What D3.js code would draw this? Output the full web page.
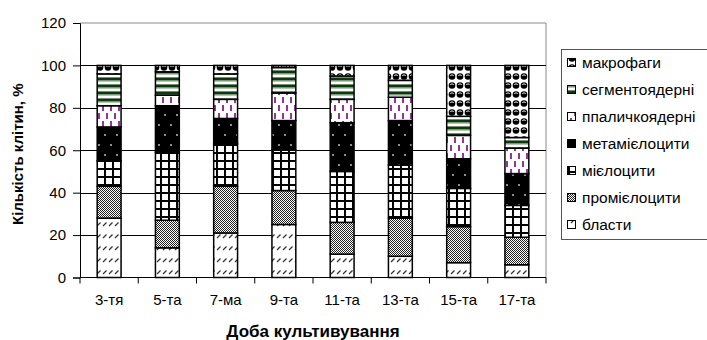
<!DOCTYPE html>
<html>
<head>
<meta charset="utf-8">
<script src="https://cdn.jsdelivr.net/npm/d3@7"></script>
<style>
  html, body { margin: 0; padding: 0; background: #fff; }
  svg { display: block; font-family: "Liberation Sans", Arial, sans-serif; }
</style>
</head>
<body>
<svg id="chart" width="707" height="340"></svg>
<script>
// Day of cultivation
const categories = ["3-тя", "5-та", "7-ма", "9-та", "11-та", "13-та", "15-та", "17-та"];

// Cell type shares, %, stacked bottom to top
const seriesNames = ["бласти", "промієлоцити", "мієлоцити", "метамієлоцити", "ппаличкоядерні", "сегментоядерні", "макрофаги"];
const blasts        = [28, 14, 21, 25, 11, 10,  7,  6];
const promyelocytes = [15, 13, 22, 16, 15, 18, 17, 13];
const myelocytes    = [12, 32, 20, 19, 24, 25, 18, 15];
const metamyelocytes= [16, 22, 12, 14, 23, 21, 14, 15];
const bandCells     = [10,  5,  9, 13, 11, 11, 11, 12];
const segmented     = [15, 11, 12, 12, 11,  8,  9,  5];
const macrophages   = [ 4,  3,  4,  1,  5,  7, 24, 34];

const yTicks = [0, 20, 40, 60, 80, 100, 120];
const yTitle = "Кількість клітин, %";
const xTitle = "Доба культивування";

const seriesValues = [blasts, promyelocytes, myelocytes, metamyelocytes, bandCells, segmented, macrophages];
const patternIds = ["pBlast", "pPro", "pMye", "pMeta", "pBand", "pSeg", "pMacro"];

const svg = d3.select("#chart");
const defs = svg.append("defs");

// ---- fill patterns ----
function pattern(id, w, h) {
  return defs.append("pattern").attr("id", id)
    .attr("patternUnits", "userSpaceOnUse").attr("width", w).attr("height", h);
}
// blasts: short upward diagonal dashes
{
  const p = pattern("pBlast", 6, 12);
  p.append("rect").attr("width", 6).attr("height", 12).attr("fill", "#fff");
  p.append("line").attr("x1", 1).attr("y1", 10).attr("x2", 4.5).attr("y2", 6.5)
    .attr("stroke", "#333").attr("stroke-width", 1.3);
}
// promyelocytes: fine checker
{
  const p = pattern("pPro", 2, 2);
  p.append("rect").attr("width", 2).attr("height", 2).attr("fill", "#fff");
  p.append("rect").attr("width", 1).attr("height", 1).attr("fill", "#222");
  p.append("rect").attr("x", 1).attr("y", 1).attr("width", 1).attr("height", 1).attr("fill", "#222");
}
// myelocytes: large grid
{
  const p = pattern("pMye", 8, 8);
  p.append("rect").attr("width", 8).attr("height", 8).attr("fill", "#000");
  p.append("rect").attr("x", 2).attr("y", 2).attr("width", 6).attr("height", 6).attr("fill", "#fff");
}
// metamyelocytes: black with sparse light dots
{
  const p = pattern("pMeta", 12, 20);
  p.append("rect").attr("width", 12).attr("height", 20).attr("fill", "#000");
  p.append("circle").attr("cx", 3).attr("cy", 5).attr("r", 1).attr("fill", "#bbb");
  p.append("circle").attr("cx", 9).attr("cy", 15).attr("r", 1).attr("fill", "#bbb");
}
// band cells: staggered purple vertical dashes
{
  const p = pattern("pBand", 8, 16);
  p.append("rect").attr("width", 8).attr("height", 16).attr("fill", "#fff");
  p.append("rect").attr("x", 2).attr("y", 1).attr("width", 2).attr("height", 6).attr("fill", "#993399");
  p.append("rect").attr("x", 6).attr("y", 9).attr("width", 2).attr("height", 6).attr("fill", "#993399");
}
// segmented: dark green horizontal stripes
{
  const p = pattern("pSeg", 7, 7);
  p.append("rect").attr("width", 7).attr("height", 7).attr("fill", "#fff");
  p.append("rect").attr("y", 0).attr("width", 7).attr("height", 1).attr("fill", "#6f8f6f");
  p.append("rect").attr("y", 1).attr("width", 7).attr("height", 2.5).attr("fill", "#0c3a0c");
  p.append("rect").attr("y", 3.5).attr("width", 7).attr("height", 1).attr("fill", "#6f8f6f");
}
// macrophages: black spheres with a light highlight on a white lattice
{
  const p = pattern("pMacro", 8, 9);
  p.append("rect").attr("width", 8).attr("height", 9).attr("fill", "#fff");
  p.append("circle").attr("cx", 4).attr("cy", 4.5).attr("r", 3.3).attr("fill", "#000");
  p.append("path").attr("d", "M2.2,4 A2,2 0 0 1 5.8,4").attr("fill", "none")
    .attr("stroke", "#fff").attr("stroke-width", 0.9);
}

// ---- scales ----
const plot = { left: 80, right: 546, top: 23, bottom: 277.5 };
const x = d3.scaleBand().domain(categories)
  .range([plot.left, plot.right]).paddingInner(0.59).paddingOuter(0.295);
const y = d3.scaleLinear().domain([0, 120]).range([plot.bottom, plot.top]);

// plot frame (top and right)
svg.append("path")
  .attr("d", `M${plot.left},${plot.top}H${plot.right}V${plot.bottom}`)
  .attr("fill", "none").attr("stroke", "#8c8c8c").attr("stroke-width", 1);

// gridlines
svg.append("g").selectAll("line").data(yTicks.filter(t => t > 0 && t < 120)).join("line")
  .attr("x1", plot.left).attr("x2", plot.right)
  .attr("y1", d => Math.round(y(d)) + 0.5).attr("y2", d => Math.round(y(d)) + 0.5)
  .attr("stroke", "#000").attr("stroke-width", 1);

// ---- stacked bars ----
const rows = categories.map((c, i) => {
  const r = { cat: c };
  seriesNames.forEach((s, k) => r[s] = seriesValues[k][i]);
  return r;
});
const stacked = d3.stack().keys(seriesNames)(rows);

svg.append("g").selectAll("g").data(stacked).join("g")
  .attr("fill", (d, k) => `url(#${patternIds[k]})`)
  .selectAll("rect").data(d => d).join("rect")
  .attr("x", d => x(d.data.cat))
  .attr("width", x.bandwidth())
  .attr("y", d => y(d[1]))
  .attr("height", d => y(d[0]) - y(d[1]))
  .attr("stroke", "#000").attr("stroke-width", 1.5);

// ---- axes ----
const yAxis = svg.append("g").attr("transform", `translate(${plot.left},0)`)
  .call(d3.axisLeft(y).tickValues(yTicks).tickSize(7).tickPadding(7));
yAxis.select(".domain").attr("stroke", "#000");
yAxis.selectAll(".tick line").attr("stroke", "#000");
yAxis.selectAll("text").attr("font-size", 15).attr("fill", "#000")
  .attr("font-family", "Liberation Sans, Arial, sans-serif");

const xAxis = svg.append("g").attr("transform", `translate(0,${plot.bottom})`)
  .call(d3.axisBottom(x).tickSize(0).tickPadding(17));
xAxis.select(".domain").attr("stroke", "#000").attr("d", `M${plot.left},0H${plot.right}`);
xAxis.selectAll("text").attr("font-size", 15).attr("fill", "#000")
  .attr("font-family", "Liberation Sans, Arial, sans-serif");
// category boundary ticks
const bounds = d3.range(categories.length + 1).map(i => plot.left + i * x.step());
xAxis.append("g").selectAll("line").data(bounds).join("line")
  .attr("x1", d => d).attr("x2", d => d).attr("y1", 0).attr("y2", 6)
  .attr("stroke", "#000");

// axis titles
svg.append("text")
  .attr("transform", `translate(23,${(plot.top + plot.bottom) / 2 + 4}) rotate(-90)`)
  .attr("text-anchor", "middle").attr("font-size", 15).attr("font-weight", "bold")
  .text(yTitle);
svg.append("text")
  .attr("x", (plot.left + plot.right) / 2).attr("y", 337)
  .attr("text-anchor", "middle").attr("font-size", 17).attr("font-weight", "bold")
  .text(xTitle);

// ---- legend ----
const legend = svg.append("g");
legend.append("rect").attr("x", 561.5).attr("y", 49.5).attr("width", 160).attr("height", 190)
  .attr("fill", "#fff").attr("stroke", "#555").attr("stroke-width", 1);
const legendOrder = d3.range(seriesNames.length).reverse();
const items = legend.selectAll("g.item").data(legendOrder).join("g")
  .attr("class", "item")
  .attr("transform", (k, i) => `translate(0,${63 + i * 27})`);
items.append("rect").attr("x", 567.5).attr("y", -4.5).attr("width", 8).attr("height", 8)
  .attr("fill", k => `url(#${patternIds[k]})`).attr("stroke", "#000").attr("stroke-width", 1);
items.append("text").attr("x", 582).attr("y", 5).attr("font-size", 15.5).attr("fill", "#000")
  .text(k => seriesNames[k]);
</script>
</body>
</html>
